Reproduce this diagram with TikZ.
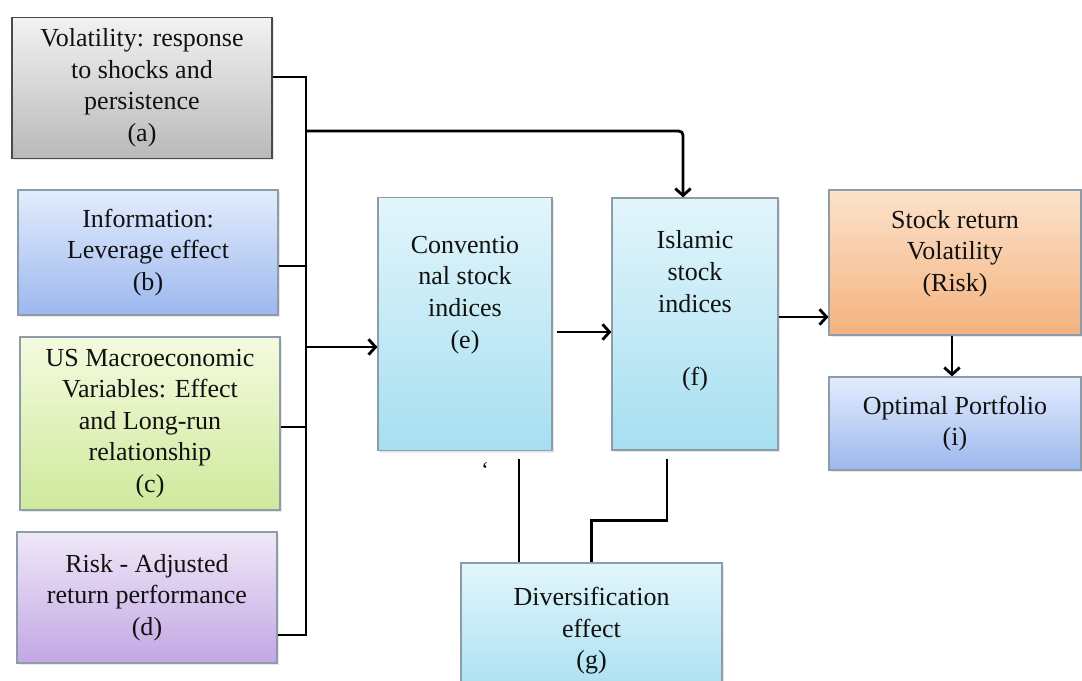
\documentclass[tikz,border=0pt]{standalone}
\usepackage{fontspec}
\setmainfont{Liberation Serif}
\usetikzlibrary{arrows.meta,shadows}
\definecolor{inktext}{HTML}{111111}
\definecolor{boxline}{HTML}{8C9CA8}
\definecolor{grayline}{HTML}{4A4A4A}
\definecolor{grayTop}{HTML}{F2F2F2}
\definecolor{grayBot}{HTML}{B9B9B9}
\definecolor{blueTop}{HTML}{E2ECFC}
\definecolor{blueBot}{HTML}{9DB8EF}
\definecolor{greenTop}{HTML}{F4FADF}
\definecolor{greenBot}{HTML}{CFE99C}
\definecolor{lilacTop}{HTML}{EFE8F7}
\definecolor{lilacBot}{HTML}{C3A6E4}
\definecolor{cyanTop}{HTML}{E2F5FB}
\definecolor{cyanBot}{HTML}{A6DFF1}
\definecolor{peachTop}{HTML}{FCE2CB}
\definecolor{peachBot}{HTML}{F4B27E}
\tikzset{
  box/.style={rectangle, draw=boxline, line width=0.8pt, align=center,
    text=inktext, font=\fontsize{18.5}{22.5}\selectfont,
    drop shadow={opacity=0.18, shadow xshift=1.5pt, shadow yshift=-1.5pt}},
  graybox/.style={box, draw=grayline, top color=grayTop, bottom color=grayBot},
  bluebox/.style={box, top color=blueTop, bottom color=blueBot},
  greenbox/.style={box, top color=greenTop, bottom color=greenBot},
  lilacbox/.style={box, top color=lilacTop, bottom color=lilacBot},
  cyanbox/.style={box, top color=cyanTop, bottom color=cyanBot},
  peachbox/.style={box, top color=peachTop, bottom color=peachBot},
  link/.style={line width=2pt, black},
  flow/.style={link, -{Straight Barb[length=5pt, width=11pt]}}
}
\begin{document}
\begin{tikzpicture}
  \useasboundingbox (0,0) rectangle (27.05,-17);
  % Left column: the four factors
  \node[graybox, minimum width=6.5cm, minimum height=3.525cm] (vol) at (3.55,-2.19)
    {Volatility: response\\to shocks and\\persistence\\(a)};
  \node[bluebox, minimum width=6.5cm, minimum height=3.125cm] (info) at (3.7,-6.3125)
    {Information:\\Leverage effect\\(b)};
  \node[greenbox, minimum width=6.5cm, minimum height=4.325cm] (macro) at (3.75,-10.5875)
    {US Macroeconomic\\Variables: Effect\\and Long-run\\relationship\\(c)};
  \node[lilacbox, minimum width=6.5cm, minimum height=3.275cm] (riskadj) at (3.675,-14.9375)
    {Risk - Adjusted\\return performance\\(d)};
  % Middle: the two index groups
  \node[cyanbox, minimum width=4.35cm, minimum height=6.325cm] (conv) at (11.625,-8.1)
    {Conventio\\nal stock\\indices\\(e)\\[0.8cm]\mbox{}};
  \node[cyanbox, minimum width=4.15cm, minimum height=6.3cm] (islamic) at (17.375,-8.1)
    {Islamic\\stock\\indices\\[1.05cm](f)\\\mbox{}};
  \node[cyanbox, minimum width=6.525cm, minimum height=3.4cm] (divers) at (14.7875,-15.775)
    {Diversification\\effect\\(g)};
  % Right column
  \node[peachbox, minimum width=6.3cm, minimum height=3.625cm] (volrisk) at (23.875,-6.5625)
    {Stock return\\Volatility\\(Risk)\\[-0.2cm]\mbox{}};
  \node[bluebox, minimum width=6.3cm, minimum height=2.325cm] (portfolio) at (23.875,-10.5875)
    {Optimal Portfolio\\(i)};
  \node[font=\fontsize{16}{18}\selectfont, inner sep=0pt] (tick) at (12.125,-11.75) {`};
  % Collecting bus
  \coordinate (ja) at (7.65,-1.925);
  \coordinate (jb) at (7.65,-6.65);
  \coordinate (jc) at (7.65,-10.675);
  \coordinate (jd) at (7.65,-15.875);
  \coordinate (jtop) at (7.65,-3.275);
  \coordinate (jin) at (7.65,-8.675);
  \draw[link] (vol.east |- ja) -- (ja) -- (jd) -- (riskadj.east |- jd);
  \draw[link] (info.east |- jb) -- (jb);
  \draw[link] (macro.east |- jc) -- (jc);
  \draw[flow, rounded corners=3pt] (jtop) -| ([xshift=-0.3cm]islamic.north);
  \draw[flow] (jin) -- (conv.west |- jin);
  % Flow to the right
  \coordinate (ef) at (0,-8.3);
  \coordinate (fh) at (0,-7.925);
  \draw[flow, shorten <=0.1cm] (conv.east |- ef) -- (islamic.west |- ef);
  \draw[flow] (islamic.east |- fh) -- (volrisk.west |- fh);
  \draw[flow] ([xshift=-0.075cm]volrisk.south) -- ([xshift=-0.075cm]portfolio.north);
  % Links down to diversification
  \draw[link, shorten <=0.2cm] ([xshift=1.35cm]conv.south) -- ([xshift=1.35cm]conv.south |- divers.north);
  \draw[link, shorten <=0.2cm] ([xshift=-0.7cm]islamic.south) -- ++(0,-1.75) -| (divers.north);
\end{tikzpicture}
\end{document}
